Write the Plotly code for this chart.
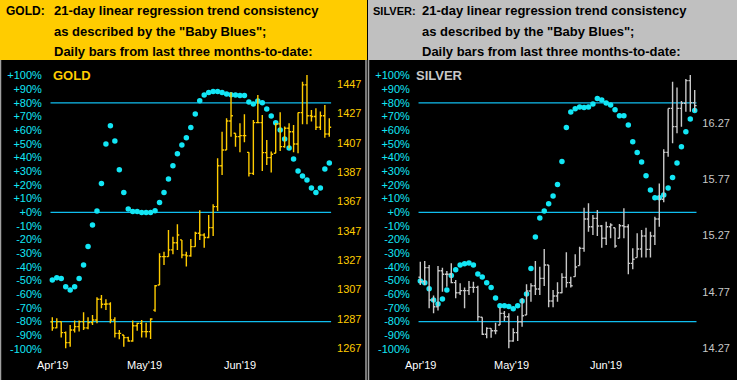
import plotly.graph_objects as go

W, H = 737, 380

# ---------------- data ----------------
BAR_INDEX = list(range(63))
MONTH_TICK_POS = [0, 20.7, 42]
MONTH_TICK_TEXT = ["Apr'19", "May'19", "Jun'19"]

PCT_TICKS = [100, 90, 80, 70, 60, 50, 40, 30, 20, 10, 0,
             -10, -20, -30, -40, -50, -60, -70, -80, -90, -100]
PCT_TICK_TEXT = ["+100%", "+90%", "+80%", "+70%", "+60%", "+50%", "+40%", "+30%", "+20%", "+10%", "+0%",
                 "-10%", "-20%", "-30%", "-40%", "-50%", "-60%", "-70%", "-80%", "-90%", "-100%"]
REF_LEVELS = [80, 0, -80]

GOLD_PRICE_TICKS = [1267, 1287, 1307, 1327, 1347, 1367, 1387, 1407, 1427, 1447]
SILVER_PRICE_TICKS = [14.27, 14.77, 15.27, 15.77, 16.27]

GOLD_OPEN = [1285.0, 1280.9, 1285.2, 1277.7, 1270.9, 1279.5, 1281.8, 1285.2, 1280.9, 1284.5,
             1286.3, 1300.4, 1297.0, 1297.2, 1286.3, 1277.2, 1276.1, 1274.3, 1272.0, 1282.4,
             1284.0, 1278.4, 1278.4, 1293.0, 1310.2, 1329.5, 1329.5, 1334.1, 1339.0, 1340.9,
             1330.6, 1330.0, 1336.3, 1345.4, 1344.3, 1342.5, 1349.3, 1363.6, 1391.5, 1402.2,
             1422.0, 1413.6, 1411.3, 1412.0, 1400.6, 1386.3, 1420.9, 1420.9, 1400.4, 1397.0,
             1400.0, 1420.0, 1404.5, 1417.0, 1414.7, 1406.3, 1427.7, 1446.6, 1425.6, 1425.0,
             1417.7, 1425.6, 1413.1]
GOLD_HIGH = [1288.1, 1287.5, 1285.2, 1278.4, 1282.9, 1285.9, 1285.9, 1291.5, 1288.1, 1289.7,
             1301.8, 1303.4, 1300.4, 1298.4, 1288.1, 1279.5, 1276.1, 1274.9, 1285.9, 1284.5,
             1286.3, 1284.5, 1287.5, 1310.2, 1331.8, 1332.9, 1347.7, 1343.1, 1351.6, 1340.9,
             1332.9, 1341.5, 1346.5, 1361.1, 1345.4, 1357.9, 1365.2, 1396.6, 1414.7, 1423.8,
             1441.6, 1413.6, 1420.4, 1426.6, 1400.6, 1422.7, 1439.7, 1426.1, 1409.1, 1401.1,
             1420.4, 1427.9, 1418.2, 1420.4, 1419.3, 1427.7, 1448.8, 1453.4, 1429.5, 1430.7,
             1428.4, 1432.9, 1423.8]
GOLD_LOW = [1279.0, 1280.6, 1274.3, 1267.0, 1268.1, 1277.7, 1278.4, 1279.5, 1280.0, 1282.9,
            1284.0, 1294.3, 1293.1, 1284.0, 1274.3, 1273.1, 1268.1, 1271.5, 1271.5, 1279.0,
            1274.3, 1274.3, 1273.4, 1292.0, 1310.2, 1323.8, 1329.5, 1331.1, 1334.1, 1328.4,
            1322.7, 1329.5, 1336.3, 1340.9, 1335.6, 1342.0, 1343.6, 1360.6, 1385.2, 1402.2,
            1411.3, 1404.5, 1400.6, 1407.5, 1384.1, 1385.2, 1420.9, 1387.9, 1392.0, 1386.8,
            1400.0, 1401.6, 1403.8, 1403.4, 1400.6, 1400.0, 1419.7, 1419.7, 1421.6, 1415.9,
            1415.9, 1410.6, 1411.3]
GOLD_CLOSE = [1280.9, 1285.2, 1277.7, 1270.9, 1279.5, 1281.8, 1285.2, 1280.9, 1284.5, 1286.3,
              1300.4, 1297.0, 1297.2, 1286.3, 1277.2, 1277.2, 1274.3, 1272.0, 1282.4, 1284.0,
              1278.4, 1278.4, 1287.0, 1309.7, 1329.5, 1329.5, 1334.1, 1339.0, 1344.3, 1330.6,
              1330.0, 1336.3, 1345.4, 1344.3, 1342.5, 1349.3, 1363.6, 1391.5, 1402.2, 1422.0,
              1425.6, 1411.3, 1412.0, 1412.0, 1386.3, 1420.9, 1420.9, 1400.4, 1397.0, 1399.3,
              1420.0, 1404.5, 1417.0, 1414.7, 1406.3, 1427.7, 1446.6, 1425.6, 1425.0, 1417.7,
              1425.6, 1413.1, 1417.7]
GOLD_BABY_BLUES = [-49.5, -47.8, -48.5, -54.4, -56.8, -54.4, -48.5, -38.5, -25.1, -9.3,
                   1.0, 21.0, 50.0, 63.4, 52.2, 31.2, 14.4, 2.4, 0.5, 0.5,
                   -0.2, -0.2, -0.2, 1.2, 7.1, 14.4, 24.4, 34.1, 42.9, 49.3,
                   54.6, 62.0, 71.9, 81.7, 85.8, 87.6, 88.3, 88.3, 87.6, 86.6,
                   86.1, 85.8, 85.4, 85.4, 80.7, 79.3, 81.5, 80.2, 75.6, 70.5,
                   65.6, 60.2, 53.7, 47.1, 39.0, 30.2, 26.6, 23.7, 17.8, 14.4,
                   17.8, 31.7, 36.1]

SILVER_OPEN = [14.900, 14.861, 14.985, 14.698, 14.639, 14.958, 14.926, 14.926, 14.852, 14.763,
               14.781, 14.781, 14.810, 14.810, 14.545, 14.394, 14.447, 14.426, 14.477, 14.580,
               14.550, 14.335, 14.409, 14.506, 14.565, 14.778, 14.825, 14.796, 14.890, 15.008,
               14.689, 14.734, 14.763, 14.899, 14.852, 14.905, 15.003, 15.156, 15.416, 15.348,
               15.422, 15.354, 15.245, 15.348, 15.339, 15.245, 15.357, 15.348, 15.023, 15.074,
               15.150, 15.266, 15.147, 15.266, 15.416, 15.591, 16.007, 16.397, 16.235, 16.397,
               16.442, 16.643, 16.448]
SILVER_HIGH = [15.038, 15.044, 15.008, 14.737, 15.000, 14.985, 14.955, 15.023, 14.876, 14.846,
               14.808, 14.867, 14.861, 14.825, 14.545, 14.456, 14.447, 14.497, 14.633, 14.601,
               14.580, 14.447, 14.559, 14.713, 14.837, 14.846, 15.044, 14.994, 15.150, 15.008,
               14.787, 14.855, 14.935, 15.121, 14.905, 15.103, 15.171, 15.517, 15.555, 15.452,
               15.496, 15.363, 15.393, 15.378, 15.339, 15.372, 15.511, 15.369, 15.156, 15.289,
               15.319, 15.339, 15.304, 15.437, 15.732, 16.034, 16.397, 16.634, 16.581, 16.462,
               16.657, 16.693, 16.560]
SILVER_LOW = [14.831, 14.831, 14.624, 14.580, 14.604, 14.772, 14.816, 14.846, 14.713, 14.743,
              14.624, 14.743, 14.763, 14.515, 14.388, 14.358, 14.364, 14.394, 14.477, 14.512,
              14.270, 14.329, 14.335, 14.462, 14.565, 14.683, 14.743, 14.743, 14.822, 14.633,
              14.633, 14.683, 14.757, 14.808, 14.808, 14.905, 15.003, 15.127, 15.304, 15.274,
              15.266, 15.162, 15.186, 15.245, 15.162, 15.245, 15.245, 14.926, 14.970, 15.074,
              15.074, 15.074, 15.074, 15.186, 15.348, 15.564, 15.969, 16.087, 16.176, 16.235,
              16.368, 16.368, 16.368]
SILVER_CLOSE = [14.861, 14.985, 14.698, 14.639, 14.958, 14.926, 14.926, 14.852, 14.763, 14.781,
                14.781, 14.810, 14.810, 14.550, 14.394, 14.447, 14.426, 14.426, 14.580, 14.550,
                14.335, 14.409, 14.506, 14.559, 14.778, 14.825, 14.796, 14.890, 15.008, 14.689,
                14.734, 14.763, 14.899, 14.852, 14.825, 14.991, 15.156, 15.416, 15.348, 15.422,
                15.354, 15.245, 15.348, 15.363, 15.177, 15.357, 15.348, 15.023, 15.059, 15.150,
                15.266, 15.147, 15.266, 15.416, 15.591, 16.007, 16.397, 16.235, 16.397, 16.442,
                16.643, 16.448, 16.421]
SILVER_BABY_BLUES = [-50.2, -51.5, -55.9, -64.1, -67.1, -63.4, -56.8, -46.3, -42.0, -38.5,
                     -37.6, -37.1, -38.5, -45.1, -47.3, -51.5, -55.1, -62.7, -68.3, -68.3,
                     -69.0, -70.5, -68.3, -64.9, -59.8, -41.2, -18.1, -4.2, 1.0, 6.3,
                     12.0, 20.4, 37.1, 62.1, 73.4, 75.8, 77.1, 76.6, 77.1, 79.3,
                     83.2, 82.2, 80.0, 78.5, 75.1, 70.7, 70.7, 63.9, 51.7, 43.7,
                     36.8, 26.8, 16.3, 10.7, 10.7, 12.7, 17.8, 25.4, 36.1, 48.0,
                     59.0, 68.3, 74.4]

HEADER_LINES = ["21-day linear regression trend consistency",
                "as described by the \"Baby Blues\";",
                "Daily bars from last three months-to-date:"]

# ---------------- styles ----------------
GOLD_C = "#FFCC00"
SILVER_C = "#C8C8C8"
CYAN = "#12E6F5"
REF_C = "#10BEEF"
FONT = "Liberation Sans, Arial, sans-serif"

def px(x):
    return x / W

def py(y):
    return 1 - y / H

T_PIX, B_PIX = 66, 358
YDOM = [py(B_PIX), py(T_PIX)]
PCT_RANGE = [-106.61, 107.05]

panels = [
    dict(name="GOLD", color=GOLD_C, header_bg="#FFCC00", x0pix=52.3, dx=4.468,
         o=GOLD_OPEN, h=GOLD_HIGH, l=GOLD_LOW, c=GOLD_CLOSE, bb=GOLD_BABY_BLUES,
         pticks=GOLD_PRICE_TICKS, pfmt="{:.0f}", prange=[1260.39, 1459.48],
         left=0, right=367, name_size=12),
    dict(name="SILVER", color=SILVER_C, header_bg="#C0C0C0", x0pix=420.3, dx=4.426,
         o=SILVER_OPEN, h=SILVER_HIGH, l=SILVER_LOW, c=SILVER_CLOSE, bb=SILVER_BABY_BLUES,
         pticks=SILVER_PRICE_TICKS, pfmt="{:.2f}", prange=[14.184, 16.7727],
         left=368, right=737, name_size=11),
]

fig = go.Figure()
shapes = []
annotations = []
XR = [-1, 63.5]

for k, p in enumerate(panels):
    xa = "x" if k == 0 else "x2"
    ya_pct = "y" if k == 0 else "y3"
    ya_pr = "y2" if k == 0 else "y4"
    dom = [px(p["x0pix"] + XR[0] * p["dx"]), px(p["x0pix"] + XR[1] * p["dx"])]

    fig.add_trace(go.Ohlc(
        x=BAR_INDEX, open=p["o"], high=p["h"], low=p["l"], close=p["c"],
        xaxis=xa, yaxis=ya_pr, tickwidth=0.42,
        increasing=dict(line=dict(color=p["color"], width=1.4)),
        decreasing=dict(line=dict(color=p["color"], width=1.4)),
        showlegend=False, hoverinfo="skip"))
    fig.add_trace(go.Scatter(
        x=BAR_INDEX, y=p["bb"], mode="markers", xaxis=xa, yaxis=ya_pct,
        marker=dict(color=CYAN, size=5.5, symbol="circle", line=dict(width=0)),
        showlegend=False, hoverinfo="skip"))

    xkey = "xaxis" if k == 0 else "xaxis2"
    pk = "yaxis" if k == 0 else "yaxis3"
    rk = "yaxis2" if k == 0 else "yaxis4"
    fig.layout[xkey] = dict(domain=dom, range=XR, anchor=ya_pct, showgrid=False, zeroline=False,
                            showline=False, showticklabels=False, ticks="",
                            rangeslider=dict(visible=False), automargin=False, fixedrange=True)
    fig.layout[pk] = dict(domain=YDOM, range=PCT_RANGE, anchor=xa, side="left", showgrid=False,
                          zeroline=False, showline=False, tickmode="array", tickvals=PCT_TICKS,
                          ticktext=PCT_TICK_TEXT, ticks="", ticklabelstandoff=5, automargin=False,
                          tickfont=dict(family=FONT, size=11, color=CYAN), fixedrange=True)
    fig.layout[rk] = dict(domain=YDOM, range=p["prange"], anchor=xa, overlaying=ya_pct, side="right",
                          showgrid=False, zeroline=False, showline=False, tickmode="array",
                          tickvals=p["pticks"], ticktext=[p["pfmt"].format(v) for v in p["pticks"]],
                          ticks="", ticklabelstandoff=0, automargin=False,
                          tickfont=dict(family=FONT, size=11, color=p["color"]), fixedrange=True)

    # month labels along the bottom
    for pos, txt in zip(MONTH_TICK_POS, MONTH_TICK_TEXT):
        annotations.append(dict(text=txt, xref=xa, yref="paper", x=pos, y=py(365),
                                xanchor="center", yanchor="middle", showarrow=False,
                                font=dict(family=FONT, size=11, color="#FFFFFF")))

    # reference level lines
    for lv in REF_LEVELS:
        shapes.append(dict(type="line", xref=xa, yref=ya_pct, x0=-0.4, x1=62.4, y0=lv, y1=lv,
                           line=dict(color=REF_C, width=1.2), layer="below"))

    # header band
    shapes.append(dict(type="rect", xref="paper", yref="paper", x0=px(p["left"]), x1=px(p["right"]),
                       y0=py(60), y1=1, fillcolor=p["header_bg"], line=dict(width=0), layer="below"))
    # panel border (left edge)
    shapes.append(dict(type="line", xref="paper", yref="paper", x0=px(p["left"] + 0.5), x1=px(p["left"] + 0.5),
                       y0=0, y1=py(60), line=dict(color="#A0A0A0", width=1.5)))

    hx = p["left"] + 4 if k == 0 else p["left"] + 3
    annotations.append(dict(text="<b>%s:</b>" % p["name"], xref="paper", yref="paper", x=px(hx), y=py(11),
                            xanchor="left", yanchor="middle", showarrow=False,
                            font=dict(family=FONT, size=p["name_size"], color="#000000")))
    for i, line in enumerate(HEADER_LINES):
        annotations.append(dict(text="<b>%s</b>" % line, xref="paper", yref="paper",
                                x=px(p["left"] + 52), y=py(11 + i * 20.5), xanchor="left", yanchor="middle",
                                showarrow=False, font=dict(family=FONT, size=13, color="#000000")))
    # label inside panel
    lx = 50.5 if k == 0 else 413.5
    annotations.append(dict(text="<b>%s</b>" % p["name"], xref="paper", yref="paper", x=px(lx), y=py(76),
                            xanchor="left", yanchor="middle", showarrow=False,
                            font=dict(family=FONT, size=13, color=p["color"])))

# right edge border of gold panel
shapes.append(dict(type="line", xref="paper", yref="paper", x0=px(366), x1=px(366), y0=0, y1=py(60),
                   line=dict(color="#A0A0A0", width=1.5)))

fig.update_layout(width=W, height=H, margin=dict(l=0, r=0, t=0, b=0, autoexpand=False),
                  paper_bgcolor="#000000", plot_bgcolor="rgba(0,0,0,0)",
                  shapes=shapes, annotations=annotations, showlegend=False,
                  dragmode=False)

fig.write_html("out.html", config={"displayModeBar": False},
               post_script="document.body.style.margin='0';document.body.style.overflow='hidden';")
